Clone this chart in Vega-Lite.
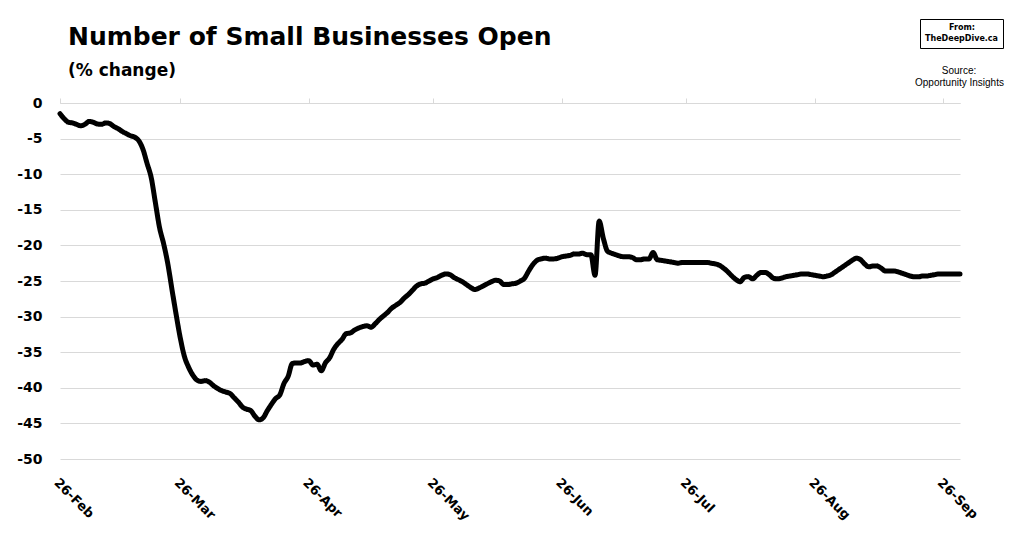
{
  "$schema": "https://vega.github.io/schema/vega-lite/v6.json",
  "width": 900,
  "height": 356,
  "autosize": {"type": "none"},
  "padding": {"left": 60, "top": 103, "right": 64, "bottom": 101},
  "background": "white",
  "title": {
    "text": "Number of Small Businesses Open",
    "subtitle": "(% change)",
    "anchor": "start",
    "frame": "group",
    "offset": -60,
    "dx": 8,
    "font": "DejaVu Sans",
    "fontSize": 25,
    "fontWeight": "bold",
    "color": "black",
    "subtitleFont": "DejaVu Sans",
    "subtitleFontSize": 17,
    "subtitleFontWeight": "bold",
    "subtitleColor": "black",
    "subtitlePadding": 13
  },
  "data": {
    "values": [
      {"date": "2020-02-26", "value": -1.5},
      {"date": "2020-02-27", "value": -2.2},
      {"date": "2020-02-28", "value": -2.7},
      {"date": "2020-02-29", "value": -2.8},
      {"date": "2020-03-01", "value": -3.0},
      {"date": "2020-03-02", "value": -3.2},
      {"date": "2020-03-03", "value": -3.0},
      {"date": "2020-03-04", "value": -2.6},
      {"date": "2020-03-05", "value": -2.7},
      {"date": "2020-03-06", "value": -2.95},
      {"date": "2020-03-07", "value": -3.0},
      {"date": "2020-03-08", "value": -2.8},
      {"date": "2020-03-09", "value": -2.9},
      {"date": "2020-03-10", "value": -3.3},
      {"date": "2020-03-11", "value": -3.6},
      {"date": "2020-03-12", "value": -4.0},
      {"date": "2020-03-13", "value": -4.3},
      {"date": "2020-03-14", "value": -4.6},
      {"date": "2020-03-15", "value": -4.8},
      {"date": "2020-03-16", "value": -5.3},
      {"date": "2020-03-17", "value": -6.5},
      {"date": "2020-03-18", "value": -8.5},
      {"date": "2020-03-19", "value": -10.5},
      {"date": "2020-03-20", "value": -14.0},
      {"date": "2020-03-21", "value": -17.5},
      {"date": "2020-03-22", "value": -19.8},
      {"date": "2020-03-23", "value": -22.6},
      {"date": "2020-03-24", "value": -26.2},
      {"date": "2020-03-25", "value": -29.7},
      {"date": "2020-03-26", "value": -33.0},
      {"date": "2020-03-27", "value": -35.6},
      {"date": "2020-03-28", "value": -37.1},
      {"date": "2020-03-29", "value": -38.2},
      {"date": "2020-03-30", "value": -38.9},
      {"date": "2020-03-31", "value": -39.1},
      {"date": "2020-04-01", "value": -39.0},
      {"date": "2020-04-02", "value": -39.2},
      {"date": "2020-04-03", "value": -39.7},
      {"date": "2020-04-04", "value": -40.1},
      {"date": "2020-04-05", "value": -40.4},
      {"date": "2020-04-06", "value": -40.6},
      {"date": "2020-04-07", "value": -40.8},
      {"date": "2020-04-08", "value": -41.4},
      {"date": "2020-04-09", "value": -42.0},
      {"date": "2020-04-10", "value": -42.7},
      {"date": "2020-04-11", "value": -43.0},
      {"date": "2020-04-12", "value": -43.2},
      {"date": "2020-04-13", "value": -44.0},
      {"date": "2020-04-14", "value": -44.5},
      {"date": "2020-04-15", "value": -44.2},
      {"date": "2020-04-16", "value": -43.2},
      {"date": "2020-04-17", "value": -42.3},
      {"date": "2020-04-18", "value": -41.5},
      {"date": "2020-04-19", "value": -41.0},
      {"date": "2020-04-20", "value": -39.4},
      {"date": "2020-04-21", "value": -38.4},
      {"date": "2020-04-22", "value": -36.6},
      {"date": "2020-04-23", "value": -36.5},
      {"date": "2020-04-24", "value": -36.5},
      {"date": "2020-04-25", "value": -36.3},
      {"date": "2020-04-26", "value": -36.2},
      {"date": "2020-04-27", "value": -36.8},
      {"date": "2020-04-28", "value": -36.7},
      {"date": "2020-04-29", "value": -37.6},
      {"date": "2020-04-30", "value": -36.5},
      {"date": "2020-05-01", "value": -35.8},
      {"date": "2020-05-02", "value": -34.6},
      {"date": "2020-05-03", "value": -33.8},
      {"date": "2020-05-04", "value": -33.2},
      {"date": "2020-05-05", "value": -32.4},
      {"date": "2020-05-06", "value": -32.3},
      {"date": "2020-05-07", "value": -31.9},
      {"date": "2020-05-08", "value": -31.6},
      {"date": "2020-05-09", "value": -31.4},
      {"date": "2020-05-10", "value": -31.3},
      {"date": "2020-05-11", "value": -31.5},
      {"date": "2020-05-12", "value": -31.0},
      {"date": "2020-05-13", "value": -30.4},
      {"date": "2020-05-14", "value": -29.9},
      {"date": "2020-05-15", "value": -29.4},
      {"date": "2020-05-16", "value": -28.8},
      {"date": "2020-05-17", "value": -28.4},
      {"date": "2020-05-18", "value": -28.0},
      {"date": "2020-05-19", "value": -27.4},
      {"date": "2020-05-20", "value": -26.9},
      {"date": "2020-05-21", "value": -26.3},
      {"date": "2020-05-22", "value": -25.7},
      {"date": "2020-05-23", "value": -25.4},
      {"date": "2020-05-24", "value": -25.3},
      {"date": "2020-05-25", "value": -25.0},
      {"date": "2020-05-26", "value": -24.7},
      {"date": "2020-05-27", "value": -24.5},
      {"date": "2020-05-28", "value": -24.2},
      {"date": "2020-05-29", "value": -24.0},
      {"date": "2020-05-30", "value": -24.1},
      {"date": "2020-05-31", "value": -24.5},
      {"date": "2020-06-01", "value": -24.8},
      {"date": "2020-06-02", "value": -25.1},
      {"date": "2020-06-03", "value": -25.5},
      {"date": "2020-06-04", "value": -25.9},
      {"date": "2020-06-05", "value": -26.2},
      {"date": "2020-06-06", "value": -26.0},
      {"date": "2020-06-07", "value": -25.7},
      {"date": "2020-06-08", "value": -25.4},
      {"date": "2020-06-09", "value": -25.1},
      {"date": "2020-06-10", "value": -24.9},
      {"date": "2020-06-11", "value": -25.0},
      {"date": "2020-06-12", "value": -25.5},
      {"date": "2020-06-13", "value": -25.5},
      {"date": "2020-06-14", "value": -25.4},
      {"date": "2020-06-15", "value": -25.3},
      {"date": "2020-06-16", "value": -25.0},
      {"date": "2020-06-17", "value": -24.6},
      {"date": "2020-06-18", "value": -23.6},
      {"date": "2020-06-19", "value": -22.7},
      {"date": "2020-06-20", "value": -22.1},
      {"date": "2020-06-21", "value": -21.9},
      {"date": "2020-06-22", "value": -21.8},
      {"date": "2020-06-23", "value": -21.9},
      {"date": "2020-06-24", "value": -21.9},
      {"date": "2020-06-25", "value": -21.8},
      {"date": "2020-06-26", "value": -21.6},
      {"date": "2020-06-27", "value": -21.5},
      {"date": "2020-06-28", "value": -21.4},
      {"date": "2020-06-29", "value": -21.2},
      {"date": "2020-06-30", "value": -21.2},
      {"date": "2020-07-01", "value": -21.1},
      {"date": "2020-07-02", "value": -21.3},
      {"date": "2020-07-03", "value": -21.3},
      {"date": "2020-07-04", "value": -24.2},
      {"date": "2020-07-05", "value": -16.6},
      {"date": "2020-07-06", "value": -19.0},
      {"date": "2020-07-07", "value": -20.8},
      {"date": "2020-07-08", "value": -21.1},
      {"date": "2020-07-09", "value": -21.3},
      {"date": "2020-07-10", "value": -21.5},
      {"date": "2020-07-11", "value": -21.6},
      {"date": "2020-07-12", "value": -21.6},
      {"date": "2020-07-13", "value": -21.7},
      {"date": "2020-07-14", "value": -22.0},
      {"date": "2020-07-15", "value": -22.0},
      {"date": "2020-07-16", "value": -21.9},
      {"date": "2020-07-17", "value": -21.9},
      {"date": "2020-07-18", "value": -21.0},
      {"date": "2020-07-19", "value": -22.0},
      {"date": "2020-07-20", "value": -22.1},
      {"date": "2020-07-21", "value": -22.2},
      {"date": "2020-07-22", "value": -22.3},
      {"date": "2020-07-23", "value": -22.4},
      {"date": "2020-07-24", "value": -22.5},
      {"date": "2020-07-25", "value": -22.4},
      {"date": "2020-07-26", "value": -22.4},
      {"date": "2020-07-27", "value": -22.4},
      {"date": "2020-07-28", "value": -22.4},
      {"date": "2020-07-29", "value": -22.4},
      {"date": "2020-07-30", "value": -22.4},
      {"date": "2020-07-31", "value": -22.4},
      {"date": "2020-08-01", "value": -22.5},
      {"date": "2020-08-02", "value": -22.6},
      {"date": "2020-08-03", "value": -22.8},
      {"date": "2020-08-04", "value": -23.2},
      {"date": "2020-08-05", "value": -23.7},
      {"date": "2020-08-06", "value": -24.3},
      {"date": "2020-08-07", "value": -24.8},
      {"date": "2020-08-08", "value": -25.1},
      {"date": "2020-08-09", "value": -24.5},
      {"date": "2020-08-10", "value": -24.4},
      {"date": "2020-08-11", "value": -24.7},
      {"date": "2020-08-12", "value": -24.2},
      {"date": "2020-08-13", "value": -23.8},
      {"date": "2020-08-14", "value": -23.8},
      {"date": "2020-08-15", "value": -24.1},
      {"date": "2020-08-16", "value": -24.6},
      {"date": "2020-08-17", "value": -24.7},
      {"date": "2020-08-18", "value": -24.6},
      {"date": "2020-08-19", "value": -24.4},
      {"date": "2020-08-20", "value": -24.3},
      {"date": "2020-08-21", "value": -24.2},
      {"date": "2020-08-22", "value": -24.1},
      {"date": "2020-08-23", "value": -24.0},
      {"date": "2020-08-24", "value": -24.0},
      {"date": "2020-08-25", "value": -24.1},
      {"date": "2020-08-26", "value": -24.2},
      {"date": "2020-08-27", "value": -24.3},
      {"date": "2020-08-28", "value": -24.4},
      {"date": "2020-08-29", "value": -24.3},
      {"date": "2020-08-30", "value": -24.1},
      {"date": "2020-08-31", "value": -23.7},
      {"date": "2020-09-01", "value": -23.3},
      {"date": "2020-09-02", "value": -22.9},
      {"date": "2020-09-03", "value": -22.5},
      {"date": "2020-09-04", "value": -22.1},
      {"date": "2020-09-05", "value": -21.8},
      {"date": "2020-09-06", "value": -22.0},
      {"date": "2020-09-07", "value": -22.6},
      {"date": "2020-09-08", "value": -23.0},
      {"date": "2020-09-09", "value": -22.9},
      {"date": "2020-09-10", "value": -22.9},
      {"date": "2020-09-11", "value": -23.2},
      {"date": "2020-09-12", "value": -23.6},
      {"date": "2020-09-13", "value": -23.6},
      {"date": "2020-09-14", "value": -23.6},
      {"date": "2020-09-15", "value": -23.7},
      {"date": "2020-09-16", "value": -23.9},
      {"date": "2020-09-17", "value": -24.1},
      {"date": "2020-09-18", "value": -24.3},
      {"date": "2020-09-19", "value": -24.4},
      {"date": "2020-09-20", "value": -24.4},
      {"date": "2020-09-21", "value": -24.3},
      {"date": "2020-09-22", "value": -24.3},
      {"date": "2020-09-23", "value": -24.2},
      {"date": "2020-09-24", "value": -24.1},
      {"date": "2020-09-25", "value": -24.0},
      {"date": "2020-09-26", "value": -24.0},
      {"date": "2020-09-27", "value": -24.0},
      {"date": "2020-09-28", "value": -24.0},
      {"date": "2020-09-29", "value": -24.0},
      {"date": "2020-09-30", "value": -24.0}
    ]
  },
  "encoding": {
    "y": {
      "field": "value",
      "type": "quantitative",
      "scale": {"domain": [-50, 0], "nice": false, "zero": false},
      "axis": {
        "title": null,
        "values": [0, -5, -10, -15, -20, -25, -30, -35, -40, -45, -50],
        "labelExpr": "'' + datum.value",
        "domain": false,
        "ticks": false,
        "grid": true,
        "gridColor": "#d9d9d9",
        "gridWidth": 1,
        "labelPadding": 18,
        "labelFont": "DejaVu Sans",
        "labelFontSize": 14,
        "labelFontWeight": "bold",
        "labelColor": "black"
      }
    }
  },
  "layer": [
    {
      "mark": {"type": "line", "strokeWidth": 5, "strokeCap": "round", "strokeJoin": "round", "interpolate": "monotone"},
      "encoding": {
        "x": {
          "field": "date",
          "type": "temporal",
          "scale": {
            "type": "utc",
            "domain": [
              {"year": 2020, "month": 2, "date": 26, "utc": true},
              {"year": 2020, "month": 9, "date": 30, "utc": true}
            ],
            "nice": false
          },
          "axis": {
            "orient": "top",
            "title": null,
            "labels": false,
            "grid": false,
            "domain": true,
            "domainColor": "#d9d9d9",
            "domainWidth": 1,
            "ticks": true,
            "tickColor": "#d9d9d9",
            "tickSize": 5,
            "values": [
              {"year": 2020, "month": 2, "date": 26, "utc": true},
              {"year": 2020, "month": 3, "date": 26, "utc": true},
              {"year": 2020, "month": 4, "date": 26, "utc": true},
              {"year": 2020, "month": 5, "date": 26, "utc": true},
              {"year": 2020, "month": 6, "date": 26, "utc": true},
              {"year": 2020, "month": 7, "date": 26, "utc": true},
              {"year": 2020, "month": 8, "date": 26, "utc": true},
              {"year": 2020, "month": 9, "date": 26, "utc": true}
            ]
          }
        },
        "color": {
          "datum": "TheDeepDive.ca",
          "scale": {"range": ["black"]},
          "legend": {
            "title": "From:",
            "orient": "none",
            "legendX": 860,
            "legendY": -84,
            "strokeColor": "black",
            "fillColor": "white",
            "padding": 5,
            "titleAnchor": "middle",
            "titleFont": "DejaVu Sans",
            "titleFontSize": 8,
            "titleFontWeight": "bold",
            "titleColor": "black",
            "titlePadding": 3,
            "labelFont": "DejaVu Sans",
            "labelFontSize": 8,
            "labelFontWeight": "bold",
            "labelColor": "black",
            "symbolSize": 0,
            "symbolOpacity": 0,
            "symbolStrokeWidth": 0,
            "labelOffset": -8
          }
        },
        "strokeDash": {
          "datum": "Opportunity Insights",
          "scale": {"range": [[1, 0]]},
          "legend": {
            "title": "Source:",
            "orient": "none",
            "legendX": 855,
            "legendY": -37,
            "padding": 0,
            "titleAnchor": "middle",
            "titleFont": "Liberation Sans",
            "titleFontSize": 10,
            "titleFontWeight": "normal",
            "titleColor": "black",
            "titlePadding": 2,
            "labelFont": "Liberation Sans",
            "labelFontSize": 10,
            "labelColor": "black",
            "symbolSize": 0,
            "symbolOpacity": 0,
            "symbolStrokeWidth": 0,
            "labelOffset": -10
          }
        }
      }
    },
    {
      "mark": {"type": "line", "strokeOpacity": 0},
      "encoding": {
        "x": {
          "field": "date",
          "type": "temporal",
          "axis": {
            "orient": "bottom",
            "title": null,
            "grid": false,
            "domain": false,
            "ticks": false,
            "labelAngle": 45,
            "labelAlign": "left",
            "labelBaseline": "top",
            "labelPadding": 17,
            "labelDx": 4,
            "labelFont": "DejaVu Sans",
            "labelFontSize": 13,
            "labelFontWeight": "bold",
            "labelColor": "black",
            "labelExpr": "utcFormat(datum.value, '%d-%b')",
            "labelOverlap": false,
            "values": [
              {"year": 2020, "month": 2, "date": 26, "utc": true},
              {"year": 2020, "month": 3, "date": 26, "utc": true},
              {"year": 2020, "month": 4, "date": 26, "utc": true},
              {"year": 2020, "month": 5, "date": 26, "utc": true},
              {"year": 2020, "month": 6, "date": 26, "utc": true},
              {"year": 2020, "month": 7, "date": 26, "utc": true},
              {"year": 2020, "month": 8, "date": 26, "utc": true},
              {"year": 2020, "month": 9, "date": 26, "utc": true}
            ]
          }
        }
      }
    }
  ],
  "resolve": {"axis": {"x": "independent"}},
  "config": {
    "view": {"stroke": null}
  }
}
